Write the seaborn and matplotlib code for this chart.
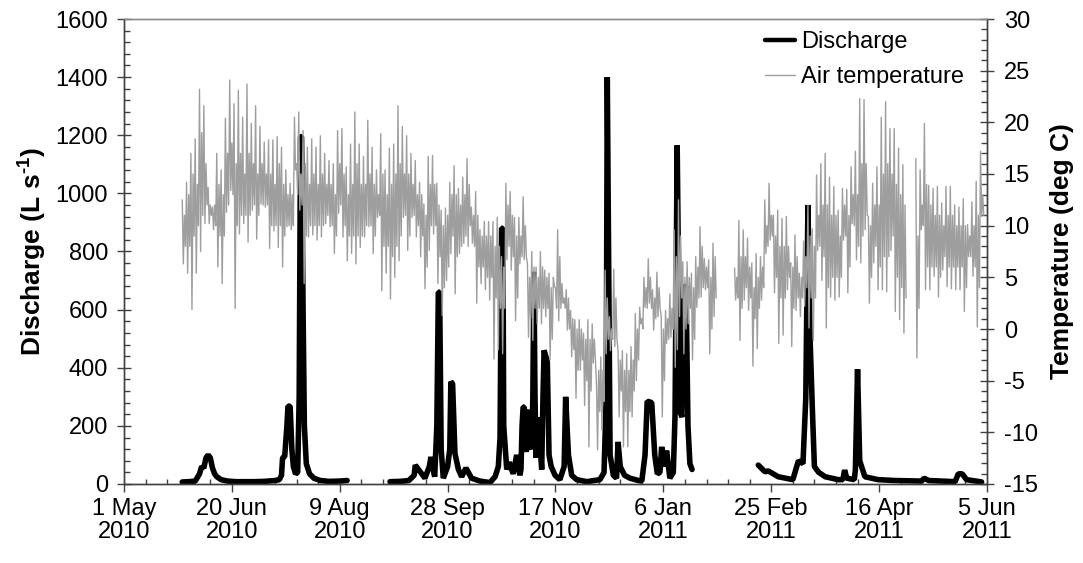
import numpy as np
import pandas as pd
import matplotlib
matplotlib.use("Agg")
import matplotlib.pyplot as plt
import seaborn as sns

sns.set_theme(style="white")
plt.rcParams["font.family"] = ["Liberation Sans", "DejaVu Sans"]
plt.rcParams["mathtext.fontset"] = "custom"
plt.rcParams["mathtext.rm"] = "Liberation Sans:bold"
plt.rcParams["mathtext.bf"] = "Liberation Sans:bold"
plt.rcParams["axes.unicode_minus"] = False

origin = pd.Timestamp("2010-05-01")
tick_labels = ["1 May\n2010", "20 Jun\n2010", "9 Aug\n2010", "28 Sep\n2010", "17 Nov\n2010",
               "6 Jan\n2011", "25 Feb\n2011", "16 Apr\n2011", "5 Jun\n2011"]

# Discharge (L/s): day since 1 May 2010, value
q_days_a = [27, 30, 33, 35, 36, 37, 38, 39, 40, 41, 42, 43, 45, 48, 52, 56, 60, 65, 70, 72, 73, 73.5, 74.5, 75.5,
            76, 77, 77.8, 78.5, 79.5, 80.5, 81.2, 81.8, 82.3, 83, 83.6, 84.5, 86, 88, 91, 95, 100, 103.4]
q_vals_a = [7, 8, 10, 35, 60, 55, 90, 100, 90, 55, 35, 25, 15, 10, 8, 8, 8, 9, 12, 15, 30, 90, 95, 200,
            268, 268, 120, 60, 35, 40, 300, 1195, 1195, 600, 200, 70, 35, 20, 12, 9, 10, 12]
q_days_b = [123.3, 128, 132, 134.5, 135, 137, 139.5, 141.5, 142.3, 143, 144, 145, 145.7, 146.3, 147, 148, 150, 151,
            151.5, 152.3, 153.4, 155, 156.5, 158.5, 161.1, 165, 169.6, 172, 173.5, 174.3, 175, 175.6, 176, 177.4,
            178.5, 180.4, 182, 183.5, 184, 184.5, 185, 185.5, 186, 186.4, 187, 187.7, 188.3, 189, 189.5, 190, 190.5,
            191, 191.5, 192, 192.8, 193.6, 194.2, 194.7, 195.5, 196.2, 197, 198, 199.8,
            202, 204, 204.7, 206, 207.5, 209.8, 214.5, 220.6, 222.5, 223.5, 224, 225.3, 226.8, 228.3, 229, 230, 232,
            234.5, 238.4, 240, 241.5, 242.5, 244.6, 246, 247.2, 248.4, 249.2, 250.3, 251.5, 253, 254.6, 255.4, 256.4,
            257.7, 258.6, 259.6, 260.5, 261.4, 262.3, 263.3]
q_vals_b = [8, 9, 12, 30, 65, 45, 20, 60, 93, 60, 25, 200, 660, 660, 120, 20, 60, 120,
            352, 345, 105, 50, 25, 55, 20, 10, 5, 25, 60, 160, 880, 880, 200, 50,
            75, 35, 100, 30, 50, 200, 265, 265, 150, 110, 240, 255, 130, 120, 300, 730, 300,
            90, 180, 230, 140, 50, 300, 460, 440, 420, 100, 60, 30,
            15, 60, 300, 100, 30, 15, 8, 15, 40, 300, 1400, 100, 30, 20, 145, 60, 30,
            20, 12, 10, 100, 285, 280, 100, 35, 40, 128, 60, 115, 20, 40, 235, 1165,
            250, 230, 680, 680, 200, 70, 50]
q_days_c = [294, 297.1, 298.6, 303.2, 310, 312.6, 314.7, 316, 317, 318, 319, 320, 322, 325, 331, 333.2, 334, 335,
            338.5, 339, 340, 341, 343.4, 349.5, 357.3, 369.7, 370.8, 373, 385.2, 386.7, 388.5, 390.5, 397.5]
q_vals_c = [65, 42, 45, 25, 15, 80, 70, 295, 960, 500, 270, 60, 40, 25, 15, 15, 48, 20,
            15, 50, 395, 80, 25, 15, 12, 10, 20, 12, 8, 35, 35, 15, 7]

# Air temperature (deg C): swings, two high/low pairs per two days
t_high_a = [12.5, 14.2, 17.0, 18.4, 23.2, 21.6, 13.7, 11.8, 17.0, 15.4, 20.4, 24.1, 21.8, 23.1, 20.5, 23.7, 19.9, 21.6,
            19.6, 18.1, 18.3, 18.3, 18.6, 17.6, 15.4, 14.1, 20.5, 21.0, 19.2, 17.6, 18.4, 17.6, 18.7, 17.0, 16.3, 16.0,
            19.2, 19.4, 15.7, 17.9, 21.0, 17.9, 16.7, 20.2, 17.6, 15.4, 18.9, 15.4, 17.5, 17.9, 21.6, 19.6, 18.7, 17.0,
            16.3,
            14.2, 12.1, 16.7, 16.8, 14.1, 11.5, 11.7, 14.2, 15.8, 13.6, 14.7, 16.5, 11.8, 13.3, 9.6, 10.4, 10.4, 10.4,
            10.8, 7.0, 14.1, 13.3, 10.8, 10.8, 12.8, 6.3, 7.5, 6.0, 7.5, 5.7, 5.4, 5.0, 9.6, 4.4, 3.8, 1.8, 0.9, 0.9,
            -0.4, 0.9, 0.5, -5.3, -2.7, 5.7, 1.2, 5.8, -2.1, -2.1, -2.4, -1.7, 1.5, 2.1, 5.0, 6.8, 3.8, 5.5, 1.2, 1.8,
            3.4, 9.6, 12.5, 6.5, 6.5, 5.4, 7.0, 9.9, 6.8, 6.7, 8.3]
t_low_a = [6.3, 5.4, 1.9, 5.4, 7.5, 10.2, 10.2, 9.6, 6.0, 4.4, 11.3, 13.4, 2.0, 9.2, 10.2, 8.4, 11.5, 8.7,
           12.1, 11.8, 7.8, 9.5, 7.9, 6.0, 9.9, 9.6, 15.4, 11.5, 4.4, 8.9, 9.1, 8.6, 8.9, 10.2, 9.9, 7.3,
           11.2, 8.9, 6.6, 7.3, 6.3, 7.9, 8.9, 9.9, 7.3, 10.8, 3.7, 5.4, 2.9, 5.0, 6.6, 10.8, 7.6, 10.8,
           8.9,
           7.0, 3.9, 7.6, 9.2, 4.4, 1.3, 4.7, 7.3, 3.4, 7.3, 8.3, 8.0, 8.3, 2.5, 4.4, 3.8, 2.8, -2.9,
           -2.0, -2.4, 6.7, 5.7, 0.8, 6.3, 6.7, -0.8, -1.1, 0.5, 0.5, 1.2, -3.0, 4.1, 0.8, 2.5, -0.1, -2.7, -6.7, -4.0,
           -7.4, -11.4, -3.3, -11.7, -9.8, -2.4, -2.1, -1.7, -8.5, -11.4, -11.4, -8.5, -5.0, 0.5, 2.1, 2.5, -0.1, 1.2,
           -8.5, -1.4, -0.8, -3.7, 1.2, -2.4, 0.5, -3.0, 2.1, 3.1, 3.8, -2.4, 1.2]
t_high2_a = [11, 13, 15, 14, 19, 16, 12, 12, 14, 13, 17, 18, 16, 17, 15, 17, 16, 15, 16, 15, 15, 14, 16, 14, 13,
             13, 16, 15, 16, 14, 15, 14, 15, 14, 14, 13, 16, 15, 13, 14, 16, 14, 14, 15, 14, 13, 15, 13, 14, 15,
             16, 15, 15, 14, 13,
             13, 11, 14, 14, 12, 10, 11, 13, 13, 12, 13, 14, 11, 11, 9, 9, 9, 8, 8, 6, 12, 11, 9, 9, 10,
             5, 6, 5, 6, 5, 4, 4, 7, 3, 3, 1, 0, 0, -1, -1, -1, -4, -4, 3, 0, 3, -3, -4, -4, -3,
             0, 1, 4, 5, 3, 4, 0, 1, 2, 7, 9, 5, 5, 4, 6, 8, 6, 5, 7]
t_low2_a = [8, 8, 9, 10, 11, 12, 11, 10, 9, 9, 12, 13, 10, 11, 11, 11, 12, 11, 12, 12, 10, 10, 10, 9, 10,
            10, 13, 12, 9, 10, 10, 10, 10, 11, 10, 9, 12, 10, 9, 9, 9, 9, 10, 10, 9, 11, 8, 8, 7, 8,
            9, 11, 9, 11, 10,
            9, 6, 10, 10, 7, 4, 6, 9, 7, 8, 9, 10, 8, 6, 6, 5, 5, 3, 2, 2, 8, 7, 3, 7, 7,
            1, 2, 2, 2, 2, -1, 2, 2, 2, 0, -2, -4, -3, -5, -6, -3, -8, -7, -1, -1, -1, -6, -8, -8, -6,
            -3, 0, 2, 2, 1, 2, -5, -1, 0, -2, 3, 0, 2, -1, 3, 4, 4, 0, 3]
t_high_b = [5.9, 10.5, 9.6, 8.8, 6.4, 7.3, 7.0, 12.5, 14.1, 11.0, 11.5, 10.7, 10.9, 6.4, 9.1, 5.4, 8.5, 12.0, 9.7,
            14.9, 16.0, 17.0, 14.7, 13.8, 11.5, 13.6, 13.5, 15.7, 17.2, 22.3, 22.2, 10.9, 14.1, 15.7, 20.5, 22.0, 19.4,
            19.4, 17.5, 15.9]
t_low_b = [2.8, -1.1, 2.8, 1.8, -3.6, -1.9, 2.8, 7.3, 8.6, 3.5, -1.4, -0.6, 3.8, -1.7, 1.8, 1.2, 2.2, 0.1, -1.1,
           7.6, 4.7, 0.1, 3.1, 2.8, 3.1, 8.6, 3.5, 10.2, 6.7, 6.4, 9.6, 2.5, 6.4, 3.8, 3.8, 3.6, 7.6,
           1.7, 0.9, -0.4]
t_high2_b = [5, 7, 7, 6, 4, 5, 6, 10, 11, 9, 8, 8, 8, 6, 7, 5, 7, 9, 8, 11,
             12, 12, 11, 11, 9, 12, 11, 13, 13, 16, 16, 10, 12, 12, 15, 16, 15, 14, 13, 12]
t_low2_b = [3, 2, 4, 3, 1, 2, 4, 8, 9, 5, 3, 3, 5, 2, 3, 3, 4, 3, 3, 8,
            7, 4, 5, 5, 5, 9, 6, 10, 8, 9, 11, 5, 8, 6, 7, 7, 9, 5, 4, 3]
t_high_c = [16.5, 15.4, 19.9, 13.9, 13.6, 13.8, 12.2, 13.8, 13.8, 12.0, 11.8, 12.6, 10.1, 12.3, 14.3, 17.2]
t_low_c = [-2.8, 9.6, 3.8, 3.8, 5.1, 3.1, 5.7, 4.1, 3.9, 3.8, 3.8, 1.7, 7.0, 5.1, 0.2, 10.9]
t_high2_c = [9, 12, 14, 12, 11, 11, 10, 11, 11, 10, 10, 10, 9, 10, 11, 13]
t_low2_c = [2, 10, 6, 6, 6, 5, 7, 6, 6, 6, 6, 4, 7, 6, 4, 11]
t_starts = [27, 283, 367]


def to_dates(days):
    return origin + pd.to_timedelta(np.asarray(days, dtype=float), unit="D")


def zigzag(start, *swings):
    values = np.ravel(np.column_stack(swings))
    return pd.DataFrame({"date": to_dates(start + 0.5 * np.arange(len(values))), "value": values})


fig = plt.figure(figsize=(10.83, 5.63), dpi=100)
ax = fig.add_axes([124 / 1083, 1 - 484 / 563, (987 - 124) / 1083, (484 - 19) / 563])
ax2 = ax.twinx()

q_color = "#000000"
t_color = "#9E9E9E"
for days, vals in [(q_days_a, q_vals_a), (q_days_b, q_vals_b), (q_days_c, q_vals_c)]:
    df = pd.DataFrame({"date": to_dates(days), "value": vals})
    sns.lineplot(data=df, x="date", y="value", ax=ax, color=q_color, lw=4.0, estimator=None, sort=False,
                 solid_joinstyle="bevel", solid_capstyle="round", legend=False)
t_groups = [(t_high_a, t_low_a, t_high2_a, t_low2_a), (t_high_b, t_low_b, t_high2_b, t_low2_b),
            (t_high_c, t_low_c, t_high2_c, t_low2_c)]
for st, group in zip(t_starts, t_groups):
    sns.lineplot(data=zigzag(st, *group), x="date", y="value", ax=ax2, color=t_color, lw=1.0, estimator=None,
                 sort=False, legend=False)

major = pd.date_range(origin, periods=9, freq="50D")
minor = pd.date_range(origin, periods=41, freq="10D")
ax.set_xlim(major[0], major[-1])
ax.set_ylim(0, 1600)
ax2.set_ylim(-15, 30)
ax.set_xticks(major)
ax.set_xticklabels(tick_labels, linespacing=1.05)
ax.set_xticks(minor, minor=True)
ax.set_yticks(np.arange(0, 1601, 200))
ax.set_yticks(np.arange(0, 1601, 40), minor=True)
ax2.set_yticks(np.arange(-15, 31, 5))
ax2.set_yticks(np.arange(-15, 31, 1), minor=True)

dark = "#404040"
ax.tick_params(axis="x", which="major", direction="out", length=6, width=1, color=dark, labelsize=17,
               labelcolor="black", pad=4, bottom=True)
ax.tick_params(axis="x", which="minor", direction="in", length=3.8, width=1, color=dark, bottom=True)
ax.tick_params(axis="y", which="major", direction="inout", length=10, width=1, color=dark, labelsize=17,
               labelcolor="black", pad=6.5, left=True)
ax.tick_params(axis="y", which="minor", direction="in", length=4.5, width=1, color=dark, left=True)
ax2.tick_params(axis="y", which="major", direction="inout", length=10, width=1, color=dark, labelsize=17,
                labelcolor="black", pad=7, right=True)
ax2.tick_params(axis="y", which="minor", direction="in", length=4.5, width=1, color=dark, right=True)

for a in (ax, ax2):
    for side in ("left", "right", "bottom"):
        a.spines[side].set_color(dark)
        a.spines[side].set_linewidth(1)
    a.spines["top"].set_color("#8C8C8C")
    a.spines["top"].set_linewidth(1)

ax.set_xlabel("")
ax.set_ylabel(r"Discharge (L s$^{\mathbf{\text{-}1}}$)", fontsize=19, fontweight="bold", color="black")
ax2.set_ylabel("Temperature (deg C)", fontsize=19, fontweight="bold", color="black")
ax.yaxis.set_label_coords((48 - 124) / 863, 0.5)
ax2.yaxis.set_label_coords((1050 - 124) / 863, 0.5)

handles = [plt.Line2D([], [], color=q_color, lw=3.2), plt.Line2D([], [], color=t_color, lw=1)]
ax2.legend(handles, ["Discharge", "Air temperature"], frameon=False, fontsize=17, loc="upper right",
           bbox_to_anchor=((971 - 124) / 863, 0.989), handlelength=1.27, handletextpad=0.25, labelspacing=0.54,
           borderpad=0.3, borderaxespad=0.0, labelcolor="black")

fig.savefig("out.png", dpi=100)
